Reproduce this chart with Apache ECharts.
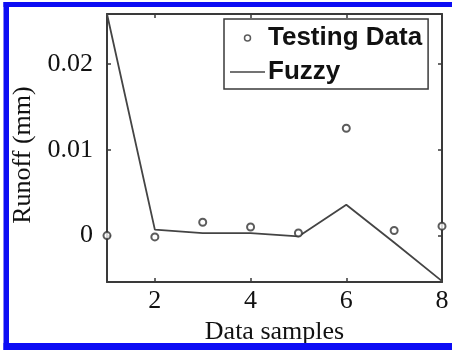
<!DOCTYPE html>
<html>
<head>
<meta charset="utf-8">
<script src="https://cdn.jsdelivr.net/npm/echarts@6/dist/echarts.min.js"></script>
<style>
html,body{margin:0;padding:0;background:#fff;}
#c{width:452px;height:350px;}
</style>
</head>
<body>
<div id="c"></div>
<script>
const samples = [1, 2, 3, 4, 5, 6, 7, 8];
const testingData = [0.0000, -0.00015, 0.00155, 0.0010, 0.0003, 0.0125, 0.0006, 0.0011];
const fuzzy = [0.0258, 0.0007, 0.0003, 0.0003, -0.0001, 0.0036, -0.0008, -0.0053];
const xTicks = [2, 4, 6, 8];
const yTicks = [0, 0.01, 0.02];

const serif = '"Liberation Serif", "Times New Roman", serif';
const sans = '"Liberation Sans", Arial, sans-serif';
const frame = '#3a3a3a';
const blue = '#0c0cf4';

const chart = echarts.init(document.getElementById('c'), null, {renderer: 'canvas'});
const xBase = {
  type: 'value', min: 1, max: 8,
  axisLine: {show: true, onZero: false, lineStyle: {color: frame, width: 2}},
  splitLine: {show: false}
};
const yBase = {
  type: 'value', min: -0.0054, max: 0.0258,
  axisLine: {show: true, onZero: false, lineStyle: {color: frame, width: 2}},
  splitLine: {show: false}
};
chart.setOption({
  animation: false,
  backgroundColor: '#fff',
  grid: {left: 107, right: 10, top: 14, bottom: 68},
  graphic: [
    {type: 'rect', z: 100, shape: {x: 3.5, y: 2, width: 5.5, height: 348}, style: {fill: blue}},
    {type: 'rect', z: 100, shape: {x: 3.5, y: 2, width: 448.5, height: 5}, style: {fill: blue}},
    {type: 'rect', z: 100, shape: {x: 3.5, y: 343, width: 448.5, height: 7}, style: {fill: blue}}
  ],
  legend: {
    orient: 'vertical', left: 224, top: 19,
    padding: [6, 6, 4, 6],
    itemGap: 8,
    itemWidth: 35, itemHeight: 6,
    borderColor: frame, borderWidth: 1.5,
    backgroundColor: '#fff',
    textStyle: {fontFamily: sans, fontWeight: 'bold', fontSize: 26, color: '#111', padding: [0, 0, 0, -2]},
    data: [
      {name: 'Testing Data', icon: 'circle', itemStyle: {color: '#fff', borderColor: '#333', borderWidth: 1.5}},
      {name: 'Fuzzy', icon: 'path://M0,0 H100 V4.5 H0 Z', itemStyle: {color: '#444', borderWidth: 0}}
    ]
  },
  xAxis: [
    Object.assign({}, xBase, {
      position: 'bottom',
      name: 'Data samples', nameLocation: 'middle', nameGap: 33,
      nameTextStyle: {fontFamily: serif, fontSize: 26, color: '#111'},
      axisTick: {show: true, inside: true, length: 4, customValues: xTicks, lineStyle: {color: frame, width: 1.5}},
      axisLabel: {show: true, margin: 6, customValues: xTicks, fontFamily: serif, fontSize: 26, color: '#111'}
    }),
    Object.assign({}, xBase, {
      position: 'top',
      axisTick: {show: true, inside: true, length: 4, customValues: xTicks, lineStyle: {color: frame, width: 1.5}},
      axisLabel: {show: false}
    })
  ],
  yAxis: [
    Object.assign({}, yBase, {
      position: 'left',
      name: 'Runoff (mm)', nameLocation: 'middle', nameGap: 71, nameRotate: 90,
      nameTextStyle: {fontFamily: serif, fontSize: 26, color: '#111', padding: [0, 0, 0, -14]},
      axisTick: {show: true, inside: true, length: 4, customValues: yTicks, lineStyle: {color: frame, width: 1.5}},
      axisLabel: {show: true, margin: 14, customValues: yTicks, fontFamily: serif, fontSize: 26, color: '#111',
        formatter: v => (v === 0 ? '0' : String(+v.toFixed(4)))}
    }),
    Object.assign({}, yBase, {
      position: 'right',
      axisTick: {show: true, inside: true, length: 4, customValues: yTicks, lineStyle: {color: frame, width: 1.5}},
      axisLabel: {show: false}
    })
  ],
  series: [
    {
      name: 'Testing Data', type: 'scatter',
      symbol: 'emptyCircle', symbolSize: 7,
      itemStyle: {color: '#333', borderWidth: 1.6},
      data: samples.map((x, i) => [x, testingData[i]]),
      z: 3
    },
    {
      name: 'Fuzzy', type: 'line',
      symbol: 'none', showSymbol: false,
      lineStyle: {color: '#444', width: 1.8},
      itemStyle: {color: '#444'},
      data: samples.map((x, i) => [x, fuzzy[i]]),
      z: 2
    }
  ]
});
</script>
</body>
</html>
